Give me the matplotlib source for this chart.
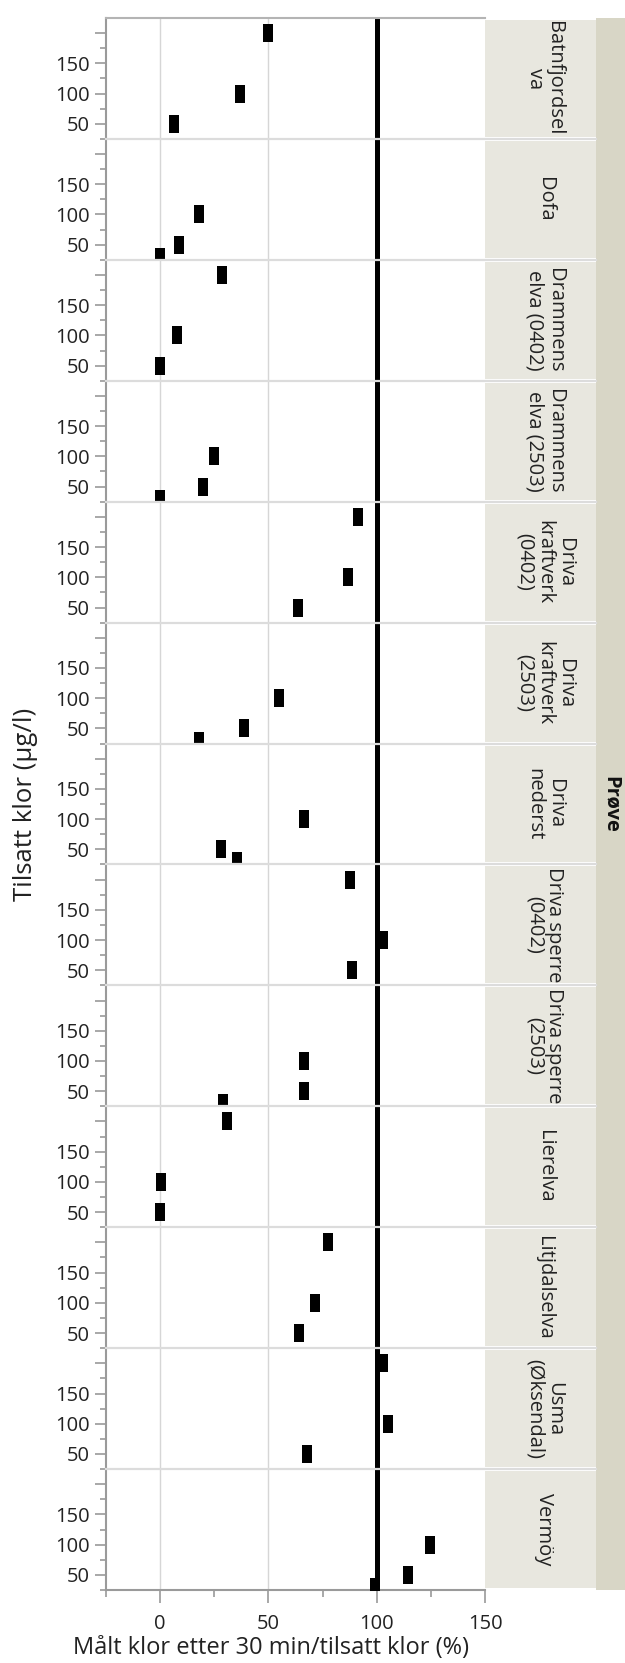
import matplotlib
matplotlib.use("Agg")
import matplotlib.pyplot as plt
from matplotlib.patches import Rectangle
from matplotlib.lines import Line2D
from matplotlib.ticker import FixedLocator

plt.rcParams['font.family'] = ['Open Sans', 'DejaVu Sans']

# ---- data ----
categories = ["Batnfjordselva", "Dofa", "Drammenselva (0402)", "Drammenselva (2503)",
              "Driva kraftverk (0402)", "Driva kraftverk (2503)", "Driva nederst",
              "Driva sperre (0402)", "Driva sperre (2503)", "Lierelva", "Litjdalselva",
              "Usma (Øksendal)", "Vermöy"]
strip_labels = ["Batnfjordsel\nva", "Dofa", "Drammens\nelva (0402)", "Drammens\nelva (2503)",
                "Driva\nkraftverk\n(0402)", "Driva\nkraftverk\n(2503)", "Driva\nnederst",
                "Driva sperre\n(0402)", "Driva sperre\n(2503)", "Lierelva", "Litjdalselva",
                "Usma\n(Øksendal)", "Vermöy"]
dose = [
    [50, 100, 200],
    [30, 50, 100],
    [50, 100, 200],
    [30, 50, 100],
    [50, 100, 200],
    [30, 50, 100],
    [30, 50, 100],
    [50, 100, 200],
    [30, 50, 100],
    [50, 100, 200],
    [50, 100, 200],
    [50, 100, 200],
    [30, 50, 100],
]
pct = [
    [6.6, 36.8, 50.0],
    [0.0, 8.8, 18.0],
    [0.0, 8.0, 28.6],
    [0.0, 20.0, 25.0],
    [63.6, 86.8, 91.4],
    [18.0, 38.8, 54.8],
    [35.4, 28.2, 66.4],
    [88.5, 102.7, 87.6],
    [29.0, 66.5, 66.5],
    [0.0, 0.3, 31.0],
    [63.9, 71.4, 77.3],
    [67.6, 105.4, 102.7],
    [99.0, 114.4, 124.8],
]
ref_value = 100
x_ticks = [0, 50, 100, 150]
x_minor = [-25, 25, 75, 125]
y_major = [50, 100, 150, 200]
y_labels = ["50", "100", "150", ""]
y_minor = [25, 75, 125, 175]

W, H = 625, 1663
fig = plt.figure(figsize=(W / 100, H / 100), dpi=100)
L, R, T, B = 106, 485, 18, 1590
n = len(categories)
ph = (B - T) / n
strip_w = 596 - R

tick_col = "#9a9a9a"
txt_col = "#222222"
fs_tick = 14.5
fs_strip = 14.5
fs_xlab = 17
fs_ylab = 18.5

marker_verts = [(-0.27, -0.5), (0.27, -0.5), (0.27, 0.5), (-0.27, 0.5)]

# outer strip
fig.add_artist(Rectangle((596 / W, 1 - B / H), (W - 596) / W, (B - T) / H,
                         transform=fig.transFigure, facecolor="#d8d6c6", edgecolor="none", zorder=0))
fig.text((596 + W) / 2 / W, 1 - (T + B) / 2 / H, "Prøve", rotation=-90, ha="center", va="center",
         fontsize=fs_strip, fontweight="bold", color="#111111")

axes = []
for i in range(n):
    top = T + i * ph
    ax = fig.add_axes([L / W, 1 - (top + ph) / H, (R - L) / W, ph / H])
    axes.append(ax)
    ax.set_xlim(-25, 150)
    ax.set_ylim(25, 225)
    for xv in x_ticks[:-1]:
        ax.axvline(xv, color="#d6d6d6", lw=1.0, zorder=1)
    ax.plot(pct[i], dose[i], linestyle="none", marker=marker_verts, markersize=12.3,
            color="black", markeredgewidth=0, zorder=3)
    ax.axvline(ref_value, color="black", lw=3.6, zorder=4)

    ax.yaxis.set_major_locator(FixedLocator(y_major))
    ax.set_yticklabels(y_labels)
    ax.yaxis.set_minor_locator(FixedLocator(y_minor))
    ax.tick_params(axis="y", which="major", length=8, width=1.2, color=tick_col,
                   labelsize=fs_tick, labelcolor=txt_col, pad=4)
    ax.tick_params(axis="y", which="minor", length=4.5, width=1.2, color=tick_col)

    ax.spines["right"].set_visible(False)
    ax.spines["left"].set_color(tick_col)
    ax.spines["left"].set_linewidth(1.5)
    ax.spines["top"].set_visible(False)
    ax.spines["bottom"].set_visible(False)

    if i < n - 1:
        ax.tick_params(axis="x", which="both", bottom=False, labelbottom=False)
    else:
        ax.xaxis.set_major_locator(FixedLocator(x_ticks))
        ax.xaxis.set_minor_locator(FixedLocator(x_minor))
        ax.tick_params(axis="x", which="major", length=9, width=1.2, color=tick_col,
                       labelsize=fs_tick, labelcolor=txt_col, pad=8.5)
        ax.tick_params(axis="x", which="minor", length=5, width=1.2, color=tick_col)
        ax.spines["bottom"].set_visible(True)
        ax.spines["bottom"].set_color(tick_col)
        ax.spines["bottom"].set_linewidth(1.5)

    # strip
    sw = strip_w / (R - L)
    inset = 2.0 / ph
    rect = Rectangle((1.0, inset), sw, 1 - 2 * inset, transform=ax.transAxes,
                     facecolor="#e8e7df", edgecolor="none", clip_on=False, zorder=0)
    ax.add_patch(rect)
    t = ax.text(1.0 + sw / 2 + 4 / (R - L), 0.5, strip_labels[i], transform=ax.transAxes,
                rotation=-90, ha="center", va="center", multialignment="center",
                fontsize=fs_strip, color=txt_col, linespacing=1.0, clip_on=False)
    t.set_clip_path(rect)

    # separators
    if i > 0:
        fig.add_artist(Line2D([L / W, 596 / W], [1 - top / H] * 2, transform=fig.transFigure,
                              color="#dcdcdc", lw=1.6, zorder=5))

# top border
fig.add_artist(Line2D([L / W, R / W], [1 - T / H] * 2, transform=fig.transFigure,
                      color="#b4b4b4", lw=1.5, zorder=5))

fig.text(271 / W, 1 - 1648 / H, "Målt klor etter 30 min/tilsatt klor (%)", ha="center", va="center",
         fontsize=fs_xlab, color=txt_col)
fig.text(26 / W, 1 - (T + B) / 2 / H, "Tilsatt klor (µg/l)", rotation=90, ha="center", va="center",
         fontsize=fs_ylab, color=txt_col)

fig.savefig("out.png", dpi=100)
